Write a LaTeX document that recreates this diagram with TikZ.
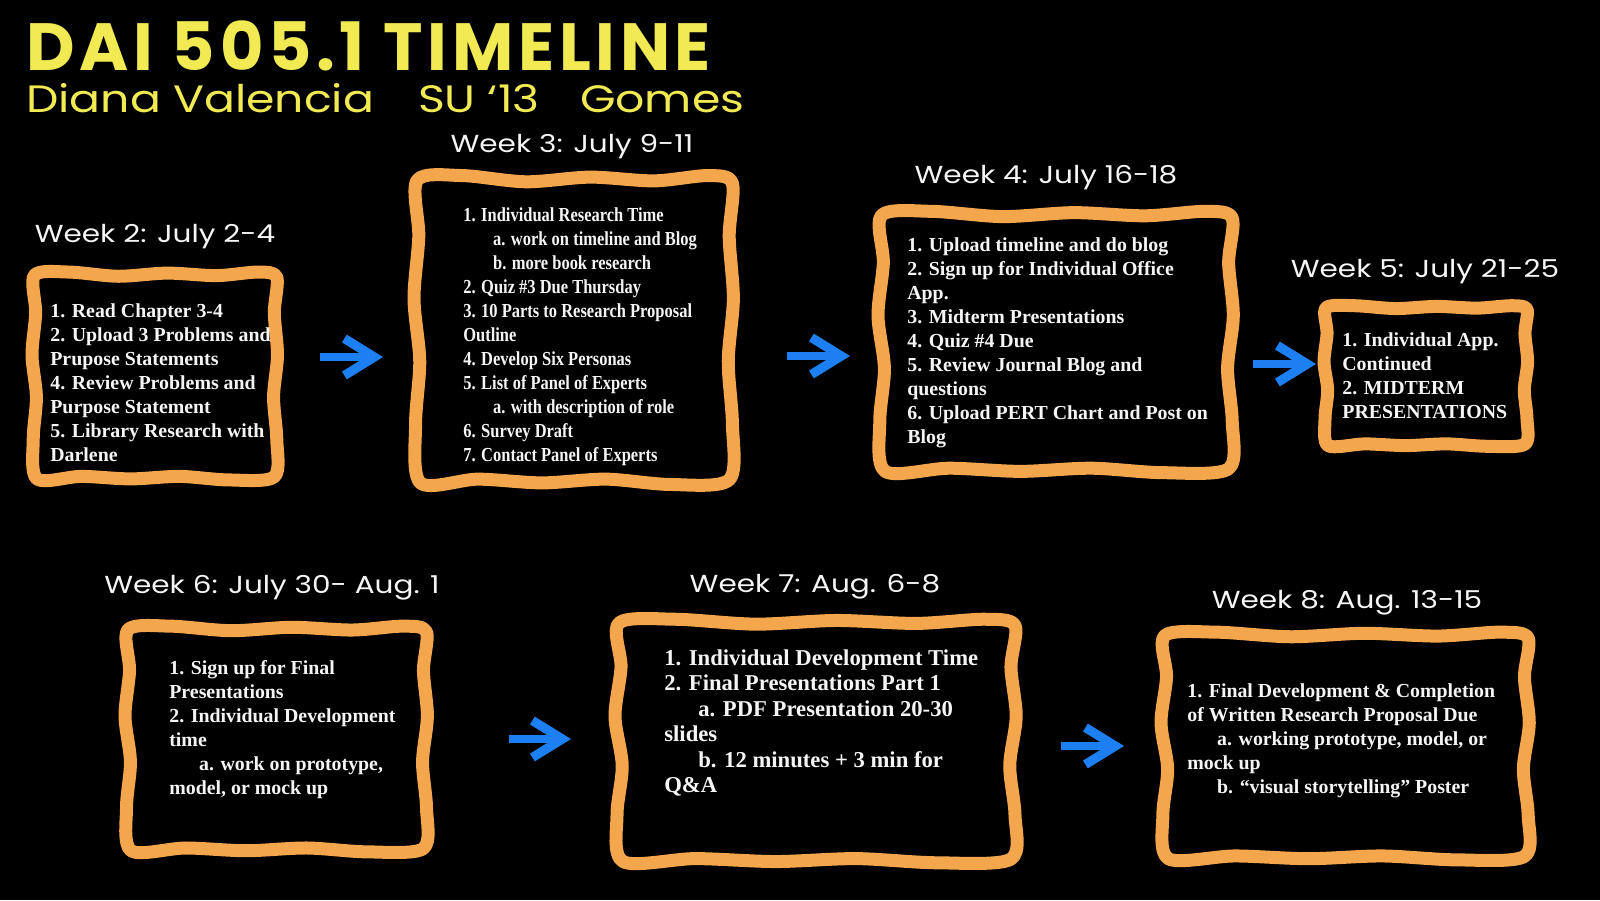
\documentclass[tikz,border=0pt]{standalone}
\usepackage{fontspec}
\usetikzlibrary{arrows.meta}
\newfontfamily\taskfont{Liberation Serif}
\newfontfamily\narrowfont[FakeStretch=0.83]{Liberation Serif}
\newfontfamily\chalkfont[FakeStretch=1.2]{Poppins}
\newfontfamily\titlefont[LetterSpace=7]{Poppins}
\definecolor{chalkyellow}{RGB}{241,234,82}
\definecolor{chalkorange}{RGB}{244,166,77}
\definecolor{arrowblue}{RGB}{28,128,242}
\definecolor{chalkwhite}{RGB}{245,245,245}
\newcommand{\subitm}{\hspace*{1.5em}}
% wobbly chalk frame: x1 y1 x2 y2 (centre line, px)
\newcommand{\chalkframe}[4]{%
  \begin{scope}[shift={(#1,#2)},xscale={#3-#1},yscale={#4-#2}]
    \draw[chalkbox] plot[smooth cycle,tension=.5] coordinates {
      (0.01,0.02) (0.15,0.005) (0.35,0.025) (0.55,0.01) (0.75,0.022) (0.92,0.005) (0.995,0.03)
      (0.985,0.2) (0.998,0.4) (0.982,0.6) (0.995,0.8) (0.985,0.98)
      (0.8,0.995) (0.6,0.978) (0.4,0.99) (0.2,0.978) (0.02,0.99)
      (0.005,0.8) (0.018,0.6) (0.0,0.4) (0.015,0.2)};
  \end{scope}}

\begin{document}
\begin{tikzpicture}[x=0.2mm,y=-0.2mm,
  chalkbox/.style={draw=chalkorange,line width=13*0.2mm,line join=round},
  task/.style={anchor=north west,inner sep=0,align=left,text=chalkwhite,
    font=\taskfont\bfseries\fontsize{11.3}{13.66}\selectfont},
  weekhead/.style={anchor=base,inner sep=0,text=chalkwhite,
    font=\chalkfont\fontsize{14}{16}\selectfont},
  jump/.style={draw=arrowblue,line width=8*0.2mm,
    -{Straight Barb[length=17pt,width=21pt,line width=5.2pt]}}]
  % chalkboard
  \fill[black] (0,0) rectangle (1600,900);
  \node[anchor=base west,inner sep=0,text depth=0pt,text=chalkyellow,
    font=\titlefont\bfseries\fontsize{38}{40}\selectfont] (title) at (26,70) {DAI 505.1 TIMELINE};
  \node[anchor=base west,inner sep=0,text height=16pt,text=chalkyellow,
    font=\chalkfont\fontsize{21.7}{24}\selectfont] (subtitle) at (26,112)
    {Diana Valencia\hspace{25pt}SU ‘13\hspace{23pt}Gomes};

  % week 2
  \node[weekhead] (h2) at (155,242) {Week 2: July 2-4};
  \chalkframe{32}{271}{278}{481}
  \node[task] (t2) at (50,303) {1. Read Chapter 3-4\\2. Upload 3 Problems and\\Prupose Statements\\4. Review Problems and\\Purpose Statement\\5. Library Research with\\Darlene};

  % week 3
  \node[weekhead] (h3) at (572,152) {Week 3: July 9-11};
  \chalkframe{414}{174}{734}{486}
  \node[task,font=\narrowfont\bfseries\fontsize{11.3}{13.7}\selectfont] (t3) at (463,207)
    {1. Individual Research Time\\\subitm a. work on timeline and Blog\\\subitm b. more book research\\2. Quiz \#3 Due Thursday\\3. 10 Parts to Research Proposal\\Outline\\4. Develop Six Personas\\5. List of Panel of Experts\\\subitm a. with description of role\\6. Survey Draft\\7. Contact Panel of Experts};

  % week 4
  \node[weekhead] (h4) at (1046,183) {Week 4: July 16-18};
  \chalkframe{878}{210}{1234}{474}
  \node[task] (t4) at (907,237) {1. Upload timeline and do blog\\2. Sign up for Individual Office\\App.\\3. Midterm Presentations\\4. Quiz \#4 Due\\5. Review Journal Blog and\\questions\\6. Upload PERT Chart and Post on\\Blog};

  % week 5
  \node[weekhead] (h5) at (1425,277) {Week 5: July 21-25};
  \chalkframe{1324}{305}{1528}{447}
  \node[task] (t5) at (1342,332) {1. Individual App.\\Continued\\2. MIDTERM\\PRESENTATIONS};

  % week 6
  \node[weekhead] (h6) at (272,593) {Week 6: July 30- Aug. 1};
  \chalkframe{125}{625}{428}{853}
  \node[task] (t6) at (169,660) {1. Sign up for Final\\Presentations\\2. Individual Development\\time\\\subitm a. work on prototype,\\model, or mock up};

  % week 7
  \node[weekhead] (h7) at (815,592) {Week 7: Aug. 6-8};
  \chalkframe{615}{618}{1017}{864}
  \node[task,font=\taskfont\bfseries\fontsize{12.9}{14.5}\selectfont] (t7) at (664,649)
    {1. Individual Development Time\\2. Final Presentations Part 1\\\subitm a. PDF Presentation 20-30\\slides\\\subitm b. 12 minutes + 3 min for\\Q\&A};

  % week 8
  \node[weekhead] (h8) at (1347,608) {Week 8: Aug. 13-15};
  \chalkframe{1161}{631}{1530}{861}
  \node[task] (t8) at (1187,683) {1. Final Development \& Completion\\of Written Research Proposal Due\\\subitm a. working prototype, model, or\\mock up\\\subitm b. “visual storytelling” Poster};

  % arrows between the weeks
  \coordinate (a1) at (320,357); \coordinate (b1) at (383,357);
  \coordinate (a2) at (787,356); \coordinate (b2) at (850,356);
  \coordinate (a3) at (1253,364); \coordinate (b3) at (1316,364);
  \coordinate (a4) at (509,739); \coordinate (b4) at (571,739);
  \coordinate (a5) at (1061,746); \coordinate (b5) at (1124,746);
  \foreach \i in {1,...,5} \draw[jump] (a\i) -- (b\i);
\end{tikzpicture}
\end{document}
